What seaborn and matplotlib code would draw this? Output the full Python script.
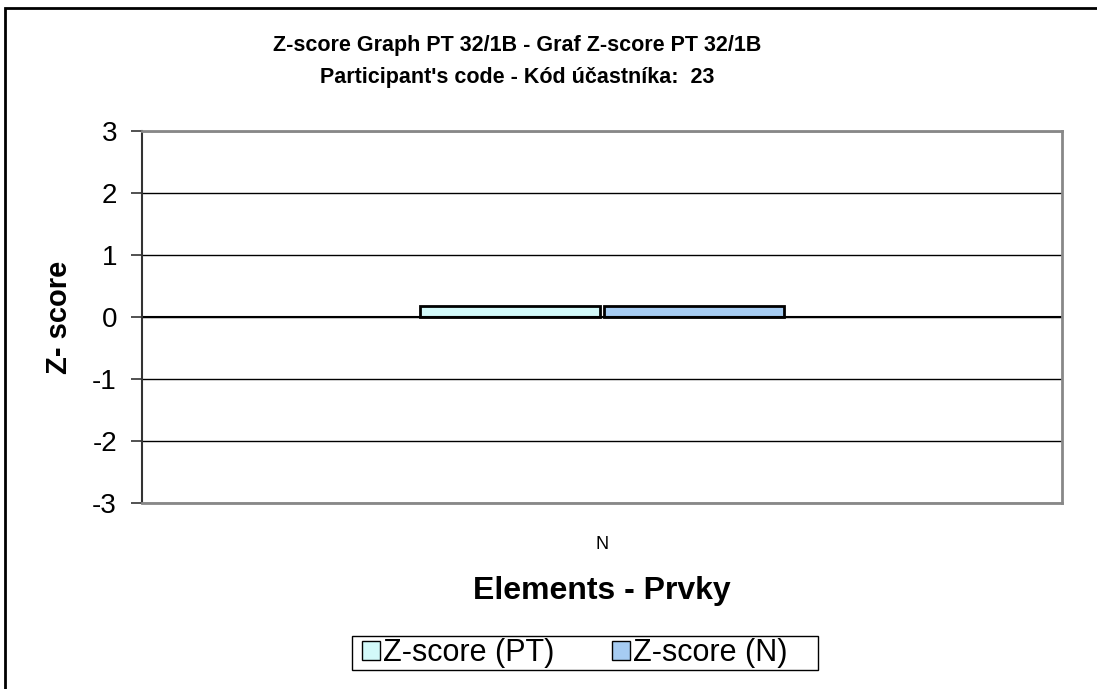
import pandas as pd
import seaborn as sns
import matplotlib.pyplot as plt
from matplotlib.patches import Rectangle

# Data
elements = ["N"]
z_pt = [0.18]
z_n = [0.18]
series_names = ["Z-score (PT)", "Z-score (N)"]
colors = ["#CCFFFF", "#99CCFF"]

df = pd.DataFrame({
    "Element": elements * 2,
    "Z": z_pt + z_n,
    "Series": [series_names[0]] * len(elements) + [series_names[1]] * len(elements),
})

sns.set_style("white")
plt.rcParams["font.family"] = ["Liberation Sans", "DejaVu Sans"]
plt.rcParams["text.color"] = "black"
plt.rcParams["axes.labelcolor"] = "black"
plt.rcParams["xtick.color"] = "black"
plt.rcParams["ytick.color"] = "black"

fig = plt.figure(figsize=(10.97, 6.89), dpi=100)
ax = fig.add_axes([0.1294, 0.2700, 0.8387, 0.5399])

sns.barplot(data=df, x="Element", y="Z", hue="Series", palette=colors,
            width=0.4, gap=0.02, edgecolor="black", linewidth=2,
            ax=ax, legend=True)

ax.set_ylim(-3, 3)
ax.set_xlim(-0.5, 0.5)
ax.set_yticks(range(-3, 4))
ax.set_yticklabels([str(v) for v in range(-3, 4)], fontsize=20)
ax.tick_params(axis="y", left=True, direction="out", length=8, width=1.2,
               color="#333333", pad=10)
ax.tick_params(axis="x", length=0, labelsize=13, pad=24)

# gridlines and zero line
ax.set_axisbelow(True)
ax.yaxis.grid(True, color="black", linewidth=1)
ax.axhline(0, color="black", linewidth=1.5, zorder=1)

for side in ["top", "right", "bottom"]:
    ax.spines[side].set_color("#888888")
    ax.spines[side].set_linewidth(2)
ax.spines["left"].set_color("#333333")
ax.spines["left"].set_linewidth(1.5)

ax.set_xlabel("Elements - Prvky", fontsize=23, fontweight="bold", labelpad=16)
ax.set_ylabel("Z- score", fontsize=21, fontweight="bold", labelpad=14)

fig.text(517 / 1097, 1 - 45 / 689, "Z-score Graph PT 32/1B - Graf Z-score PT 32/1B",
         ha="center", va="center", fontsize=15.5, fontweight="bold")
fig.text(517 / 1097, 1 - 78 / 689, "Participant's code - Kód účastníka:  23",
         ha="center", va="center", fontsize=15.5, fontweight="bold")

# legend at the bottom; Excel-style box drawn separately (wider than contents)
handles, labels = ax.get_legend_handles_labels()
ax.legend_.remove()
leg = fig.legend(handles, labels, loc="center", bbox_to_anchor=(575 / 1097, 1 - 653 / 689),
                 ncol=2, fontsize=22, frameon=False,
                 handlelength=0.58, handleheight=0.58, handletextpad=0.1, columnspacing=1.9,
                 borderpad=0, borderaxespad=0)
for h in leg.legend_handles:
    h.set_edgecolor("black")
    h.set_linewidth(1)
fig.patches.append(Rectangle((352 / 1097, 1 - 670 / 689), 466 / 1097, 34 / 689,
                             transform=fig.transFigure, fill=False,
                             edgecolor="black", linewidth=1))

# outer chart frame (cropped at right and bottom)
fig.patches.append(Rectangle((5 / 1097, -0.1), 1.2, 1 - 8 / 689 + 0.1,
                             transform=fig.transFigure, fill=False,
                             edgecolor="black", linewidth=2))

fig.savefig("out.png", dpi=100)
